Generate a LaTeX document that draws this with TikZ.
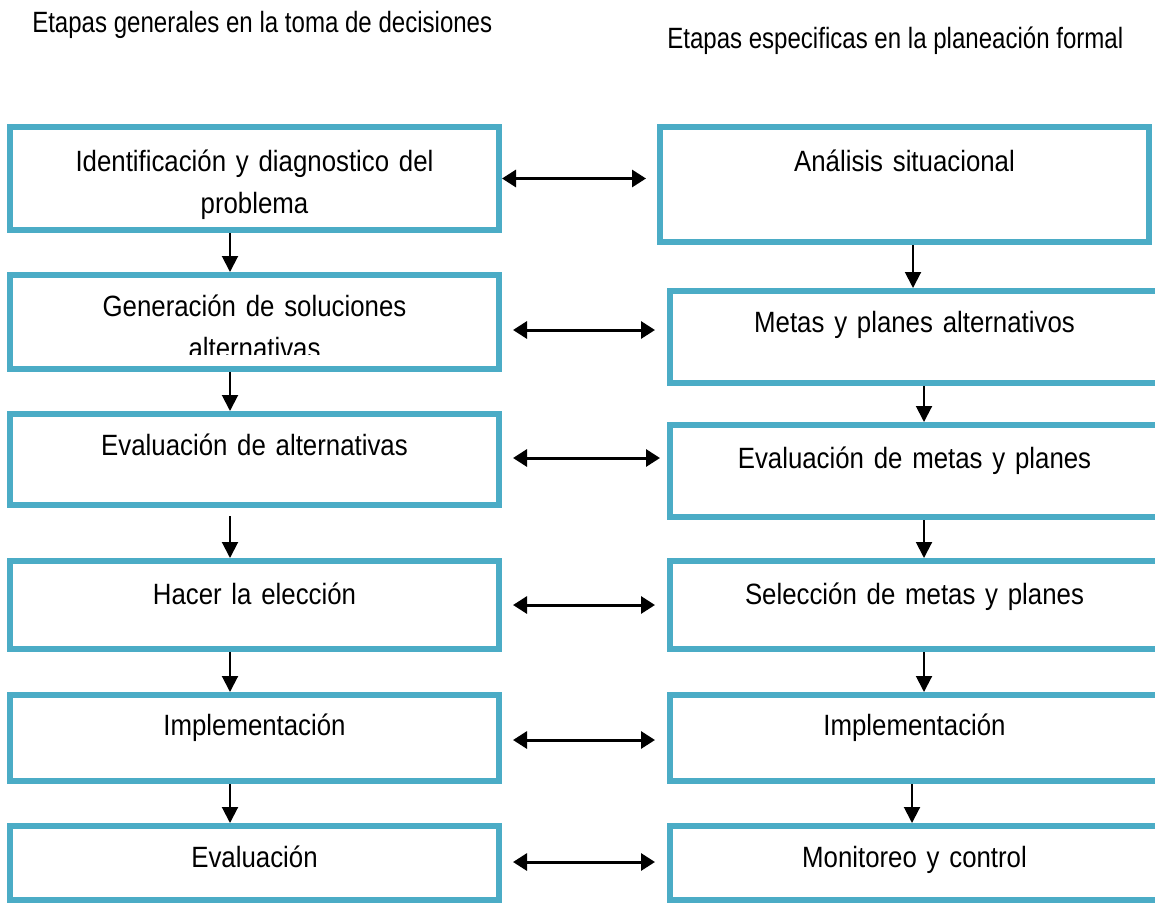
\documentclass[tikz,border=0pt]{standalone}
\usepackage{fontspec}
\usepackage{tikz}
\usetikzlibrary{arrows.meta, calc}
\newfontfamily\cajafont[FakeStretch=0.88]{Liberation Sans}
\newfontfamily\titulofont[FakeStretch=0.82]{Liberation Sans}
\definecolor{cajaazul}{HTML}{4BACC6}
\newlength{\pix}
\setlength{\pix}{0.75pt}

\begin{document}
\begin{tikzpicture}[x=\pix, y=-\pix,
  etapa/.style 2 args={draw=cajaazul, line width=6\pix, outer sep=3\pix, inner sep=0pt,
    minimum width=489\pix, text width=480\pix, align=center, anchor=north west,
    text height=#1\pix, text depth=#2\pix,
    font=\cajafont\fontsize{22pt}{31.5pt}\selectfont},
  titulo/.style={font=\titulofont\fontsize{22pt}{26pt}\selectfont, inner sep=0pt, anchor=base west},
  flecha/.style={-{Triangle[width=12pt,length=12pt]}, line width=1.5pt},
  doble/.style={{Triangle[width=12.75pt,length=10.5pt]}-{Triangle[width=12.75pt,length=10.5pt]}, line width=2.25pt}]
\useasboundingbox (0,0) rectangle (1155,906);
\clip (0,0) rectangle (1155,906);

% titles
\node[titulo] (titgen) at (32,33) {Etapas generales en la toma de decisiones};
\node[titulo] (titesp) at (667,49) {Etapas especificas en la planeación formal};

% left column: decision making
\node[etapa={44}{59}] (l1) at (7,124) {Identificación y diagnostico del\\ problema};
\node[etapa={41}{53}] (l2) at (7,272) {Generación de soluciones\\ alternativas};
\fill[white] ($(l2.south west)+(6,-6)$) rectangle ($(l2.south east)+(-6,-17)$);
\node[etapa={41}{50}] (l3) at (7,411) {Evaluación de alternativas};
\node[etapa={43}{45}] (l4) at (7,558) {Hacer la elección};
\node[etapa={40}{46}] (l5) at (7,692) {Implementación};
\node[etapa={41}{33}] (l6) at (7,823) {Evaluación};

% right column: formal planning
\node[etapa={44}{71}] (r1) at (657,124) {Análisis situacional};
\node[etapa={41}{51}] (r2) at (667,288) {Metas y planes alternativos};
\node[etapa={43}{49}] (r3) at (667,422) {Evaluación de metas y planes};
\node[etapa={43}{45}] (r4) at (667,558) {Selección de metas y planes};
\node[etapa={40}{46}] (r5) at (667,692) {Implementación};
\node[etapa={41}{33}] (r6) at (667,823) {Monitoreo y control};

% downward arrows
\draw[flecha] (l1.south -| 230,0) -- (l2.north -| 230,0);
\draw[flecha] (l2.south -| 230,0) -- (l3.north -| 230,0);
\draw[flecha, shorten <=6pt] (l3.south -| 230,0) -- (l4.north -| 230,0);
\draw[flecha] (l4.south -| 230,0) -- (l5.north -| 230,0);
\draw[flecha] (l5.south -| 230,0) -- (l6.north -| 230,0);
\draw[flecha] (r1.south -| 913,0) -- (r2.north -| 913,0);
\draw[flecha] (r2.south -| 924,0) -- (r3.north -| 924,0);
\draw[flecha] (r3.south -| 924,0) -- (r4.north -| 924,0);
\draw[flecha] (r4.south -| 924,0) -- (r5.north -| 924,0);
\draw[flecha] (r5.south -| 912,0) -- (r6.north -| 912,0);

% links between columns
\draw[doble] (l1.east) -- ($(l1.east -| r1.west)+(-11,0)$);
\draw[doble] ($(l2.east |- 0,330)+(11,0)$) -- ($(r2.west |- 0,330)+(-12,0)$);
\draw[doble] ($(l3.east |- 0,458)+(11,0)$) -- ($(r3.west |- 0,458)+(-7,0)$);
\draw[doble] ($(l4.east |- 0,605)+(11,0)$) -- ($(r4.west |- 0,605)+(-12,0)$);
\draw[doble] ($(l5.east |- 0,740)+(11,0)$) -- ($(r5.west |- 0,740)+(-12,0)$);
\draw[doble] ($(l6.east |- 0,862)+(11,0)$) -- ($(r6.west |- 0,862)+(-12,0)$);
\end{tikzpicture}
\end{document}
